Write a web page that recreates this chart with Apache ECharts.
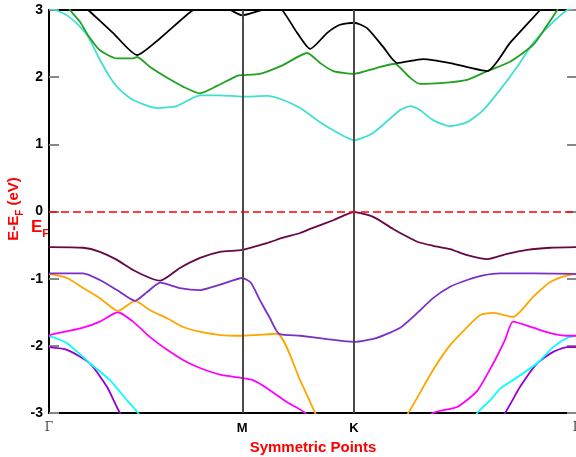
<!DOCTYPE html>
<html><head><meta charset="utf-8">
<script src="https://cdn.jsdelivr.net/npm/echarts@6/dist/echarts.min.js"></script>
<style>html,body{margin:0;padding:0;background:#fff;overflow:hidden}#c{width:576px;height:457px}</style>
</head><body><div id="c"></div>
<script>
// k-path positions (hexagonal units): Γ - M - K - Γ
var kPoints = [0, 0.577, 0.911, 1.577];
var kLabels = ['Γ', 'M', 'K', 'Γ'];
var yTicks = [-3, -2, -1, 0, 1, 2, 3];

// Valence bands [k, E-EF]
var bandMaroon = [[0,-0.53],[0.102,-0.54],[0.152,-0.60],[0.203,-0.72],[0.251,-0.87],[0.302,-0.99],[0.332,-1.03],[0.391,-0.84],[0.451,-0.69],[0.511,-0.60],[0.577,-0.57],[0.651,-0.47],[0.699,-0.39],[0.750,-0.32],[0.780,-0.26],[0.849,-0.13],[0.911,-0.01],[0.968,-0.08],[1.028,-0.26],[1.049,-0.32],[1.100,-0.45],[1.147,-0.51],[1.198,-0.56],[1.249,-0.65],[1.309,-0.71],[1.368,-0.63],[1.428,-0.57],[1.497,-0.54],[1.577,-0.53]];
var bandIndigo = [[0,-0.92],[0.102,-0.92],[0.152,-1.02],[0.203,-1.17],[0.257,-1.33],[0.293,-1.20],[0.332,-1.06],[0.391,-1.14],[0.451,-1.17],[0.511,-1.09],[0.577,-0.99],[0.603,-1.06],[0.630,-1.32],[0.660,-1.59],[0.687,-1.82],[0.750,-1.85],[0.831,-1.90],[0.911,-1.94],[0.980,-1.88],[1.049,-1.73],[1.100,-1.51],[1.147,-1.29],[1.198,-1.12],[1.249,-1.02],[1.297,-0.95],[1.347,-0.92],[1.446,-0.92],[1.577,-0.93]];
var bandOrange = [[0,-0.93],[0.054,-0.99],[0.102,-1.14],[0.152,-1.29],[0.206,-1.48],[0.257,-1.33],[0.302,-1.47],[0.353,-1.59],[0.400,-1.72],[0.451,-1.79],[0.511,-1.84],[0.577,-1.85],[0.681,-1.82],[0.750,-2.51],[0.795,-3.0],[0.911,-4.2],[1.073,-3.0],[1.147,-2.36],[1.198,-1.99],[1.249,-1.72],[1.288,-1.54],[1.327,-1.51],[1.386,-1.57],[1.446,-1.27],[1.497,-1.05],[1.548,-0.95],[1.577,-0.93]];
var bandMagenta = [[0,-1.84],[0.102,-1.73],[0.152,-1.64],[0.206,-1.50],[0.251,-1.64],[0.302,-1.87],[0.353,-2.06],[0.400,-2.21],[0.451,-2.33],[0.511,-2.43],[0.577,-2.48],[0.609,-2.51],[0.651,-2.63],[0.711,-2.84],[0.765,-3.0],[0.911,-3.9],[1.147,-3.0],[1.219,-2.91],[1.279,-2.67],[1.327,-2.26],[1.362,-1.91],[1.386,-1.64],[1.446,-1.73],[1.497,-1.81],[1.548,-1.85],[1.577,-1.85]];
var bandCyan = [[0,-1.85],[0.054,-1.96],[0.122,-2.26],[0.182,-2.51],[0.233,-2.81],[0.266,-3.0],[0.40,-4.0],[1.15,-4.0],[1.279,-3.0],[1.318,-2.81],[1.347,-2.64],[1.386,-2.51],[1.458,-2.26],[1.506,-2.02],[1.548,-1.88],[1.577,-1.85]];
var bandViolet = [[0,-2.02],[0.054,-2.06],[0.122,-2.26],[0.173,-2.61],[0.212,-3.0],[0.40,-4.5],[1.15,-4.5],[1.362,-3.0],[1.407,-2.61],[1.458,-2.26],[1.506,-2.09],[1.548,-2.02],[1.577,-2.02]];
// Conduction bands
var bandTurquoise = [[0,3.02],[0.018,3.0],[0.054,2.92],[0.093,2.75],[0.117,2.60],[0.152,2.26],[0.182,2.00],[0.212,1.81],[0.251,1.66],[0.323,1.54],[0.382,1.57],[0.451,1.73],[0.511,1.73],[0.577,1.71],[0.651,1.72],[0.699,1.66],[0.750,1.54],[0.801,1.36],[0.849,1.21],[0.911,1.06],[0.968,1.17],[1.049,1.51],[1.079,1.57],[1.108,1.51],[1.147,1.36],[1.198,1.27],[1.249,1.33],[1.297,1.51],[1.347,1.81],[1.398,2.15],[1.446,2.51],[1.497,2.78],[1.548,3.0],[1.577,3.04]];
var bandGreen = [[0,3.5],[0.063,3.0],[0.093,2.82],[0.117,2.62],[0.152,2.40],[0.203,2.28],[0.251,2.28],[0.263,2.30],[0.302,2.15],[0.353,1.99],[0.400,1.86],[0.451,1.76],[0.502,1.87],[0.562,2.02],[0.577,2.03],[0.630,2.05],[0.699,2.18],[0.771,2.36],[0.810,2.21],[0.849,2.09],[0.911,2.05],[0.980,2.14],[1.034,2.20],[1.049,2.14],[1.079,1.99],[1.108,1.90],[1.168,1.91],[1.249,1.96],[1.309,2.09],[1.377,2.23],[1.446,2.48],[1.482,2.73],[1.518,3.0],[1.577,3.5]];
var bandBlack = [[0,3.55],[0.117,3.0],[0.191,2.66],[0.263,2.33],[0.332,2.58],[0.430,3.0],[0.481,3.1],[0.541,3.0],[0.577,2.92],[0.636,3.0],[0.666,3.05],[0.696,3.0],[0.741,2.66],[0.780,2.42],[0.831,2.66],[0.869,2.78],[0.911,2.81],[0.950,2.73],[0.998,2.45],[1.040,2.21],[1.117,2.27],[1.198,2.21],[1.309,2.09],[1.377,2.51],[1.467,3.0],[1.577,3.6]];

var bands = [
  {d: bandViolet, c: '#9400d3'},
  {d: bandCyan, c: '#00ffff'},
  {d: bandMagenta, c: '#ff00ff'},
  {d: bandOrange, c: '#ffa500'},
  {d: bandIndigo, c: '#7a2fc8'},
  {d: bandMaroon, c: '#670748'},
  {d: bandTurquoise, c: '#40e0d0'},
  {d: bandGreen, c: '#22a022'},
  {d: bandBlack, c: '#000000'}
];

var FONT = 'Liberation Sans, Arial, Helvetica, sans-serif';
var series = bands.map(function (b) {
  return {type: 'line', data: b.d, smooth: 0.2, showSymbol: false, clip: true,
    lineStyle: {color: b.c, width: 1.8}, z: 3, silent: true};
});
series.push({
  type: 'line', data: [], silent: true, z: 2,
  markLine: {silent: true, symbol: 'none', label: {show: false}, animation: false,
    data: [
      {xAxis: kPoints[1], lineStyle: {color: '#4a4a4a', width: 2, type: 'solid'}},
      {xAxis: kPoints[2], lineStyle: {color: '#4a4a4a', width: 2, type: 'solid'}},
      {yAxis: 0, lineStyle: {color: '#ff0000', width: 1.6, type: [8, 4]}}
    ]}
});

var chart = echarts.init(document.getElementById('c'), null, {renderer: 'canvas'});
chart.setOption({
  animation: false,
  grid: {left: 49, top: 10, width: 528, height: 403, show: true, borderColor: '#000', borderWidth: 2,
    containLabel: false, outerBoundsMode: 'none'},
  xAxis: {
    type: 'value', min: 0, max: kPoints[3],
    axisLine: {show: true, onZero: false, lineStyle: {color: '#000', width: 2}},
    axisTick: {show: false},
    splitLine: {show: false},
    axisLabel: {
      customValues: kPoints, margin: 9, hideOverlap: false,
      formatter: function (v) {
        for (var i = 0; i < kPoints.length; i++) {
          if (Math.abs(v - kPoints[i]) < 1e-6) {
            return kLabels[i] === 'Γ' ? '{g|Γ}' : '{b|' + kLabels[i] + '}';
          }
        }
        return '';
      },
      rich: {
        b: {fontFamily: FONT, fontWeight: 'bold', fontSize: 13, color: '#000'},
        g: {fontFamily: 'DejaVu Serif, serif', fontWeight: 'normal', fontSize: 12, color: '#444'}
      }
    },
    name: 'Symmetric Points', nameLocation: 'middle', nameGap: 24,
    nameTextStyle: {color: '#ff0000', fontFamily: FONT, fontWeight: 'bold', fontSize: 15}
  },
  yAxis: [{
    type: 'value', min: -3, max: 3, interval: 1,
    axisLine: {show: true, onZero: false, lineStyle: {color: '#000', width: 2}},
    axisTick: {show: true, inside: true, length: 10, lineStyle: {color: '#888', width: 2}},
    splitLine: {show: false},
    axisLabel: {color: '#000', fontFamily: FONT, fontWeight: 'bold', fontSize: 14, margin: 6,
      customValues: yTicks, formatter: function (v) { return String(v); }}
  }, {
    type: 'value', min: -3, max: 3, interval: 1, position: 'right',
    axisLine: {show: true, onZero: false, lineStyle: {color: '#000', width: 2}},
    axisTick: {show: true, inside: true, length: 10, lineStyle: {color: '#888', width: 2}},
    splitLine: {show: false}, axisLabel: {show: false}
  }],
  graphic: [
    {type: 'text', x: 14, y: 209, rotation: Math.PI / 2, silent: true,
      style: {text: '{a|E-E}{s|F}{a| (eV)}', align: 'center', verticalAlign: 'middle',
        rich: {
          a: {fill: '#ff0000', fontFamily: FONT, fontWeight: 'bold', fontSize: 15, lineHeight: 22, verticalAlign: 'middle'},
          s: {fill: '#ff0000', fontFamily: FONT, fontWeight: 'bold', fontSize: 10, lineHeight: 22, verticalAlign: 'bottom'}
        }}},
    {type: 'text', x: 31, y: 227, silent: true,
      style: {text: '{a|E}{s|F}', align: 'left', verticalAlign: 'middle',
        rich: {
          a: {fill: '#ff0000', fontFamily: FONT, fontWeight: 'bold', fontSize: 17, lineHeight: 24, verticalAlign: 'middle'},
          s: {fill: '#ff0000', fontFamily: FONT, fontWeight: 'bold', fontSize: 11, lineHeight: 24, verticalAlign: 'bottom'}
        }}}
  ],
  series: series
});
</script></body></html>
